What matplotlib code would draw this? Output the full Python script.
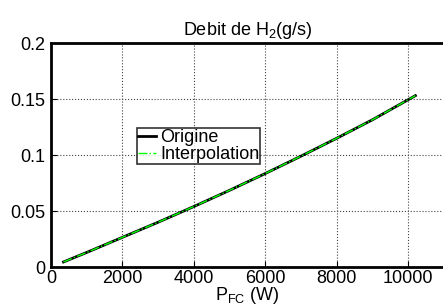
import numpy as np
import matplotlib.pyplot as plt

plt.rcParams['font.family'] = ['Liberation Sans', 'DejaVu Sans']
plt.rcParams['mathtext.fontset'] = 'custom'
plt.rcParams['mathtext.rm'] = 'Liberation Sans'
plt.rcParams['mathtext.it'] = 'Liberation Sans'

# data
p_fc = [350, 1000, 2000, 3000, 4000, 5000, 6000, 7000, 8000, 9000, 10200]
debit = [0.0045, 0.0130, 0.0265, 0.0400, 0.0540, 0.0685, 0.0835, 0.0990, 0.1150, 0.1315, 0.1530]

fig = plt.figure(figsize=(4.43, 3.07), dpi=100)
ax = fig.add_axes([51/443, 1-267/307, 393/443, 224/307])

ax.plot(p_fc, debit, color='black', lw=2, label='Origine')
ax.plot(p_fc, debit, color='#00ff00', lw=1, ls='-.', label='Interpolation')

ax.set_xlim(0, 11000)
ax.set_ylim(0, 0.2)
ax.set_xticks([0, 2000, 4000, 6000, 8000, 10000])
ax.set_yticks([0, 0.05, 0.1, 0.15, 0.2])
ax.set_yticklabels(['0', '0.05', '0.1', '0.15', '0.2'])
ax.grid(True, color='#444444', ls=':', lw=0.8)
ax.tick_params(direction='in', labelsize=13, length=4, pad=2)
ax.tick_params(axis='y', pad=4)
for s in ax.spines.values():
    s.set_linewidth(2)

ax.set_title('Debit de H$_2$(g/s)', fontsize=13, pad=6)
ax.set_xlabel('P$_{FC}$ (W)', fontsize=13, labelpad=-1)

leg = ax.legend(loc='upper left', bbox_to_anchor=(0.22, 0.62), fontsize=13,
                frameon=True, fancybox=False, edgecolor='black', borderpad=0.05,
                handlelength=1.0, handletextpad=0.2, labelspacing=0.0, borderaxespad=0)
leg.get_frame().set_linewidth(1.2)

fig.savefig('out.png', dpi=100)
